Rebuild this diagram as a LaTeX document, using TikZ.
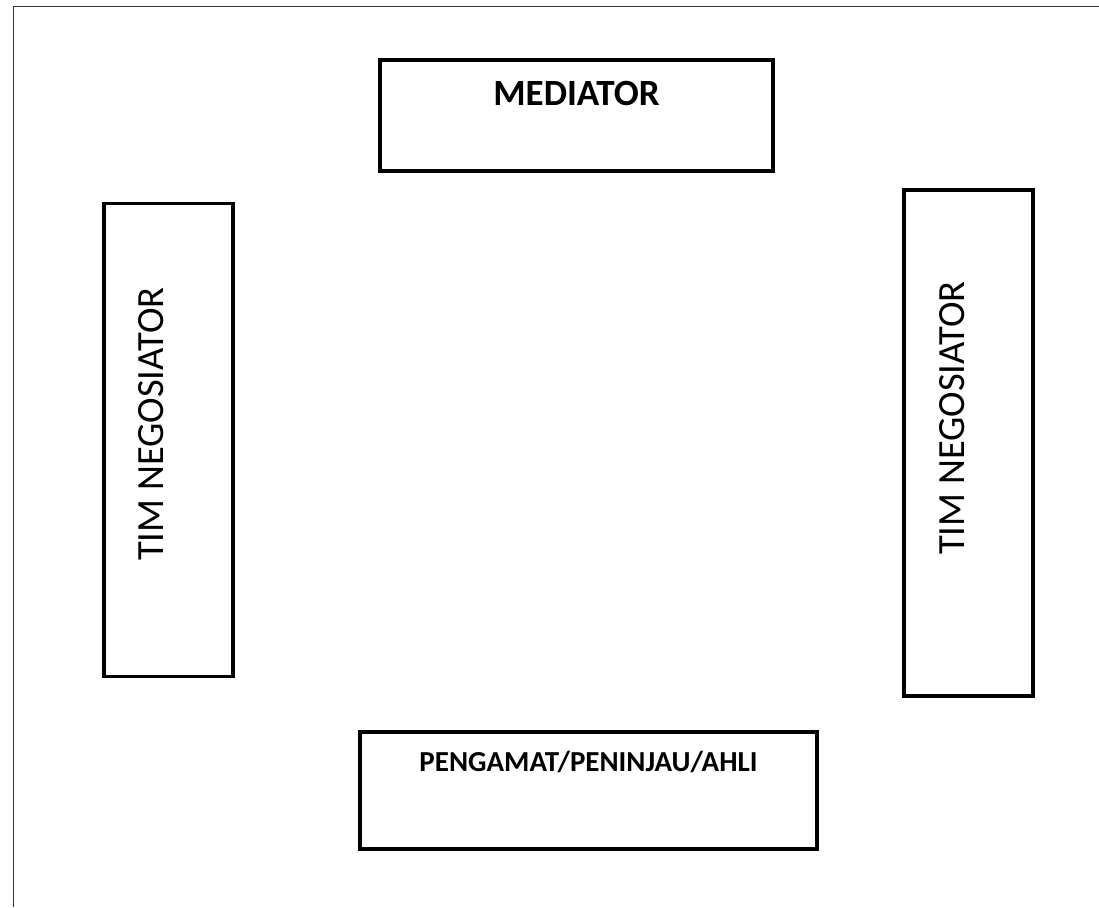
\documentclass[tikz,border=0pt]{standalone}
\usepackage{fontspec}
\setmainfont{Carlito}
\usepackage{tikz}
\usetikzlibrary{positioning}
\tikzset{
  kotak/.style = {draw=black, line width=3.4pt, inner sep=0pt,
    rectangle},% kotak meja
  judul_b/.style = {inner sep=0pt, font=\fontsize{37}{41}\selectfont\bfseries},% judul tebal
  judul_s/.style = {inner sep=0pt, font=\fontsize{29}{33}\selectfont\bfseries},% judul kecil
  judul_v/.style = {inner sep=0pt, rotate=90, font=\fontsize{38.5}{42}\selectfont},% judul tegak
  bingkai/.style = {draw=black!80, line width=1.5pt}% garis tepi
}
\begin{document}
\begin{tikzpicture}[x=1pt,y=1pt]
    \useasboundingbox (0,0) rectangle (1099,907);
    % garis tepi
    \coordinate (tepi_a) at (1099,900.5);
    \coordinate (tepi_b) at (13.5,900.5);
    \coordinate (tepi_c) at (13.5,0);
    \draw[bingkai] (tepi_a) -- (tepi_b) -- (tepi_c);
    % meja
    \node [kotak, minimum width=393pt, minimum height=111pt] (med) at (576.5,791.5) {};
    \node [kotak, minimum width=457pt, minimum height=117pt] (amat) at (588.5,116.5) {};
    \node [kotak, minimum width=129pt, minimum height=473pt] (neg_l) at (168.5,467) {};
    \node [kotak, minimum width=129pt, minimum height=506pt] (neg_r) at (968.5,464) {};
    % tulisan
    \node [judul_b, below=23pt of med.north] (t_med) {MEDIATOR};
    \node [judul_s, below=21pt of amat.north] (t_amat) {PENGAMAT/PENINJAU/AHLI};
    \node [judul_v] (t_neg_l) at ([xshift=-17pt,yshift=16pt]neg_l.center) {TIM NEGOSIATOR};
    \node [judul_v] (t_neg_r) at ([xshift=-16.5pt,yshift=25pt]neg_r.center) {TIM NEGOSIATOR};
\end{tikzpicture}
\end{document}
